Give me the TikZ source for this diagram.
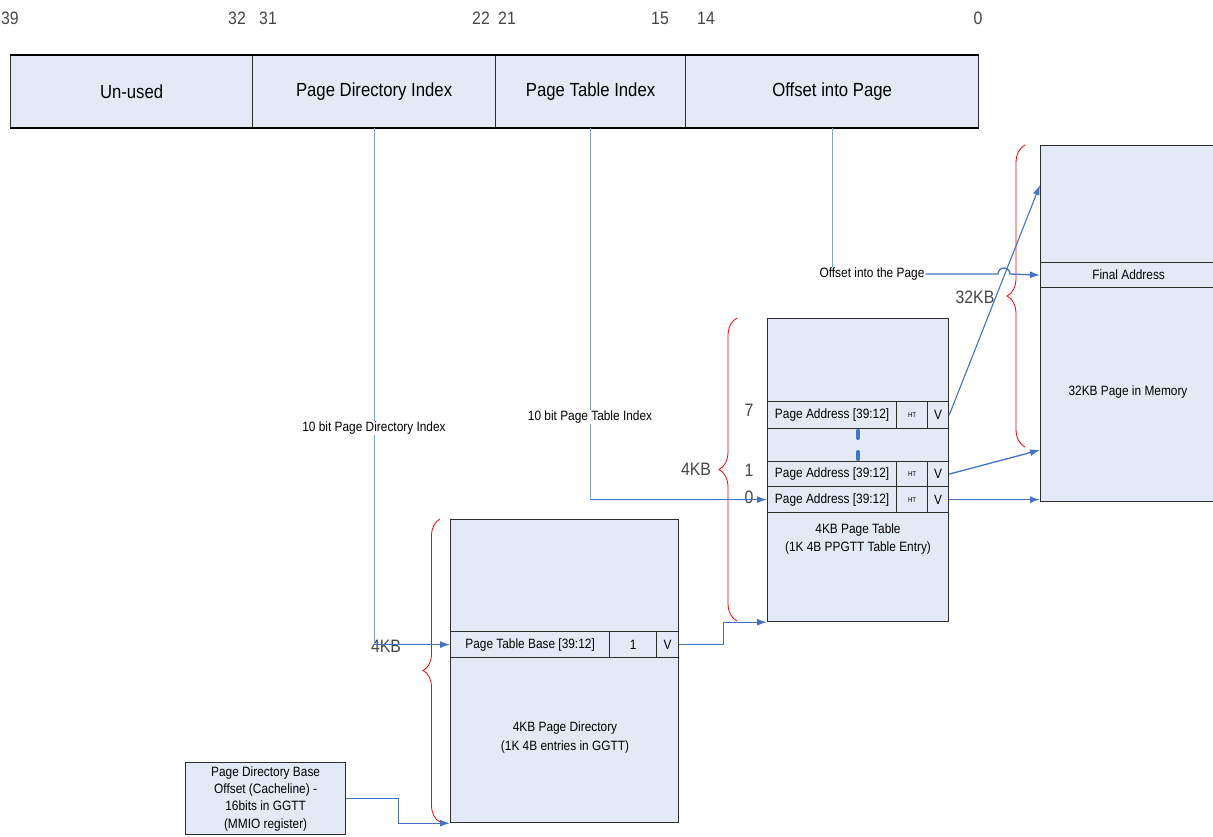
\documentclass[tikz,border=0pt]{standalone}
\usepackage{fontspec}
\setmainfont{Liberation Sans}[FakeStretch=0.88]
\usetikzlibrary{arrows.meta,decorations.pathreplacing,calc}
\definecolor{boxfill}{RGB}{228,234,245}
\definecolor{linkblue}{RGB}{68,114,196}
\definecolor{lightblue}{RGB}{130,160,215}
\definecolor{bordr}{RGB}{45,45,45}
\definecolor{lblgray}{RGB}{70,70,70}
\begin{document}
\begin{tikzpicture}[x=1pt,y=-1pt,
  cell/.style={draw=bordr,line width=1.2pt,fill=boxfill,inner sep=0pt,anchor=north west},
  toptext/.style={font=\fontsize{19}{22}\selectfont},
  bitlbl/.style={font=\fontsize{18}{20}\selectfont,text=lblgray},
  small/.style={font=\fontsize{13.5}{18}\selectfont,align=center},
  tinytext/.style={font=\fontsize{7}{8}\selectfont},
  sizelbl/.style={font=\fontsize{18}{20}\selectfont,text=lblgray},
  link/.style={draw=linkblue,line width=1.3pt,-{Latex[length=10pt,width=7pt]}},
  thinlink/.style={draw=lightblue,line width=1pt},
  brc/.style={draw=red,line width=0.8pt,decorate,decoration={brace,amplitude=#1}},
]
\useasboundingbox (0,0) rectangle (1213,836);

% ---- top bar ----
\node[cell,toptext,minimum width=242pt,minimum height=72pt] (unused) at (10,55) {Un-used};
\node[cell,toptext,minimum width=243pt,minimum height=72pt] (pdi) at (252,55) {Page Directory Index};
\node[cell,toptext,minimum width=190pt,minimum height=72pt] (pti) at (495,55) {Page Table Index};
\node[cell,toptext,minimum width=293pt,minimum height=72pt] (off) at (685,55) {Offset into Page};
\draw[black,line width=2pt] (unused.north west) -- (off.north east);
\draw[black,line width=2pt] (unused.south west) -- (off.south east);

% ---- bit numbers ----
\node[bitlbl] (b39) at (10,18) {39};
\node[bitlbl] (b32) at (237,18) {32};
\node[bitlbl] (b31) at (268,18) {31};
\node[bitlbl] (b22) at (481,18) {22};
\node[bitlbl] (b21) at (507,18) {21};
\node[bitlbl] (b15) at (660,18) {15};
\node[bitlbl] (b14) at (706,18) {14};
\node[bitlbl] (b0) at (978,18) {0};

% ---- page directory ----
\node[cell,minimum width=228pt,minimum height=303pt] (pd) at (450,519) {};
\node[cell,small,minimum width=159pt,minimum height=26pt] (pde1) at (450,631) {Page Table Base [39:12]};
\node[cell,small,minimum width=47pt,minimum height=26pt] (pde2) at (609,631) {1};
\node[cell,small,minimum width=22pt,minimum height=26pt] (pde3) at (656,631) {V};
\node[small,font=\fontsize{13.5}{19}\selectfont] (pdlbl) at (565,737) {4KB Page Directory\\(1K 4B entries in GGTT)};

% ---- page directory base register ----
\node[cell,small,font=\fontsize{13.5}{17.3}\selectfont,minimum width=160pt,minimum height=72pt] (pdb) at (185,762)
  {Page Directory Base\\Offset (Cacheline) -\\16bits in GGTT\\(MMIO register)};

% ---- page table ----
\node[cell,minimum width=181pt,minimum height=303pt] (pt) at (767,318) {};
\node[cell,small,minimum width=129pt,minimum height=27pt] (r7a) at (767,401) {Page Address [39:12]};
\node[cell,tinytext,minimum width=31pt,minimum height=27pt] (r7b) at (896,401) {HT};
\node[cell,small,minimum width=21pt,minimum height=27pt] (r7c) at (927,401) {V};
\node[cell,minimum width=181pt,minimum height=33pt] (rgap) at (767,428) {};
\node[cell,small,minimum width=129pt,minimum height=25pt] (r1a) at (767,461) {Page Address [39:12]};
\node[cell,tinytext,minimum width=31pt,minimum height=25pt] (r1b) at (896,461) {HT};
\node[cell,small,minimum width=21pt,minimum height=25pt] (r1c) at (927,461) {V};
\node[cell,small,minimum width=129pt,minimum height=26pt] (r0a) at (767,486) {Page Address [39:12]};
\node[cell,tinytext,minimum width=31pt,minimum height=26pt] (r0b) at (896,486) {HT};
\node[cell,small,minimum width=21pt,minimum height=26pt] (r0c) at (927,486) {V};
\node[small,font=\fontsize{13.5}{18}\selectfont] (ptlbl) at (858,539) {4KB Page Table\\(1K 4B PPGTT Table Entry)};
\draw[linkblue,line width=4pt,dash pattern=on 7pt off 14pt,line cap=round]
  ($(rgap.north)+(0,3)$) -- ($(rgap.south)+(0,-2)$);

% ---- memory page ----
\node[cell,minimum width=176pt,minimum height=356pt] (mem) at (1040,145) {};
\node[cell,small,minimum width=176pt,minimum height=25pt] (fa) at (1040,262) {Final Address};
\node[small] (memlbl) at (1128,392) {32KB Page in Memory};

% ---- braces and size labels ----
\draw[brc=17pt] (440,822) -- (440,519);
\draw[brc=18pt] (737,621) -- (737,318);
\draw[brc=18pt] (1025,447) -- (1025,145);
\node[sizelbl] (kb1) at (386,646) {4KB};
\node[sizelbl] (kb2) at (696,469) {4KB};
\node[sizelbl] (kb3) at (975,297) {32KB};
\node[sizelbl] (i7) at (749,410) {7};
\node[sizelbl] (i1) at (749,470) {1};
\node[sizelbl] (i0) at (749,497) {0};

% ---- connectors ----
\coordinate (pdturn) at (pdi.south |- pde1.west);
\draw[thinlink] (pdi.south) -- (pdturn);
\draw[link] (pdturn) -- (pde1.west);
\node[small,fill=white,inner sep=1pt] (pdilbl) at (374,428) {10 bit Page Directory Index};

\coordinate (ptturn) at (pti.south |- r0a.west);
\draw[thinlink] (pti.south) -- (ptturn);
\draw[link] (ptturn) -- (r0a.west);
\node[small,fill=white,inner sep=1pt] (ptilbl) at (590,417) {10 bit Page Table Index};

\node[small,fill=white,inner sep=1pt] (offlbl) at (872,274) {Offset into the Page};
\draw[thinlink] (off.south) -- (off.south |- offlbl.north);
\coordinate (hop) at (998,274);
\draw[link] (offlbl.east) -- (hop) arc[start angle=180,end angle=0,radius=6pt] -- (fa.west);

\draw[link] (pde3.east) -- ++(44,0) |- (pt.south west);
\draw[link] (pdb.east) -- ++(52,0) |- (pd.south west);

\coordinate (m7) at ($(mem.north west)+(0,40)$);
\coordinate (m1) at ($(mem.north west)+(0,305)$);
\draw[link,line width=1.1pt] (r7c.east) -- (m7);
\draw[link] (r1c.east) -- (m1);
\draw[link] (r0c.east) -- (r0c.east -| mem.west);
\end{tikzpicture}
\end{document}
